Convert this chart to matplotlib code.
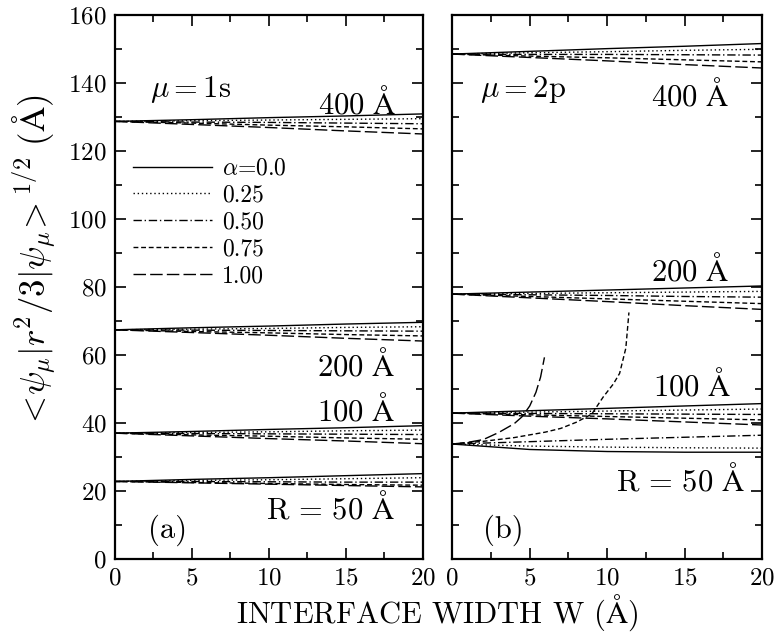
import matplotlib

matplotlib.use("Agg")
import matplotlib.pyplot as plt

plt.rcParams["font.family"] = "serif"
plt.rcParams["font.serif"] = ["cmr10"]
plt.rcParams["mathtext.fontset"] = "cm"
plt.rcParams["axes.formatter.use_mathtext"] = True
plt.rcParams["axes.unicode_minus"] = False

# interface width grid for the smooth bands
W = [0, 5, 10, 15, 20]
ALPHAS = ["0.0", "0.25", "0.50", "0.75", "1.00"]

# panel (a): mu = 1s, rows are alpha = 0.0, 0.25, 0.50, 0.75, 1.00
a_400 = [
    [128.7, 129.2, 129.8, 130.3, 130.9],
    [128.7, 128.9, 129.1, 129.3, 129.5],
    [128.7, 128.5, 128.4, 128.2, 128.0],
    [128.7, 128.2, 127.6, 127.1, 126.5],
    [128.7, 127.8, 126.9, 125.9, 125.0],
]
a_200 = [
    [67.4, 68.0, 68.5, 69.1, 69.6],
    [67.4, 67.6, 67.8, 68.1, 68.3],
    [67.4, 67.3, 67.2, 67.1, 67.0],
    [67.4, 66.9, 66.5, 66.0, 65.6],
    [67.4, 66.6, 65.8, 64.9, 64.1],
]
a_100 = [
    [37.0, 37.5, 38.1, 38.6, 39.2],
    [37.0, 37.2, 37.4, 37.7, 37.9],
    [37.0, 36.9, 36.8, 36.7, 36.6],
    [37.0, 36.5, 36.1, 35.6, 35.2],
    [37.0, 36.2, 35.4, 34.7, 33.9],
]
a_50 = [
    [22.8, 23.4, 23.9, 24.5, 25.1],
    [22.8, 23.1, 23.3, 23.6, 23.9],
    [22.8, 22.8, 22.7, 22.6, 22.6],
    [22.8, 22.5, 22.2, 21.9, 21.7],
    [22.8, 22.4, 22.0, 21.6, 21.2],
]

# panel (b): mu = 2p
b_400 = [
    [148.5, 149.3, 150.1, 150.8, 151.6],
    [148.5, 148.9, 149.2, 149.6, 149.9],
    [148.5, 148.4, 148.4, 148.3, 148.2],
    [148.5, 147.9, 147.4, 146.8, 146.2],
    [148.5, 147.5, 146.5, 145.4, 144.4],
]
b_200 = [
    [77.9, 78.5, 79.1, 79.7, 80.3],
    [77.9, 78.1, 78.3, 78.5, 78.7],
    [77.9, 77.7, 77.5, 77.2, 77.0],
    [77.9, 77.2, 76.5, 75.8, 75.1],
    [77.9, 76.8, 75.7, 74.5, 73.4],
]
b_100 = [
    [42.9, 43.6, 44.3, 45.0, 45.7],
    [42.9, 43.2, 43.5, 43.8, 44.1],
    [42.9, 42.8, 42.7, 42.6, 42.5],
    [42.9, 42.4, 41.9, 41.4, 40.9],
    [42.9, 42.0, 41.2, 40.3, 39.4],
]
# R = 50 A, mu = 2p: alpha 0.75 and 1.00 run away
b50_w0 = [0, 5, 10, 15, 20]
b50_y0 = [33.8, 32.2, 31.6, 31.4, 31.4]
b50_w1 = [0, 5, 10, 15, 20]
b50_y1 = [33.8, 33.2, 32.9, 32.7, 32.6]
b50_w2 = [0, 5, 10, 15, 20]
b50_y2 = [33.8, 34.5, 35.2, 35.8, 36.4]
b50_w3 = [0, 2, 4, 6, 7, 8, 9, 9.75, 10.4, 10.8, 11.2, 11.4]
b50_y3 = [33.8, 34.6, 35.7, 37.3, 38.4, 40.2, 42.6, 47.7, 51.5, 54.6, 62.0, 72.5]
b50_w4 = [0, 1, 2, 3, 4, 4.5, 5, 5.4, 5.7, 5.95]
b50_y4 = [33.8, 34.3, 35.1, 37.2, 39.8, 41.8, 45.0, 49.0, 53.5, 59.3]

STYLES = ["-", (0, (1, 2)), (0, (6, 2, 1, 2)), (0, (3.5, 2)), (0, (9, 3))]


def style_axes(ax, ylabels):
    ax.set_xlim(0, 20)
    ax.set_ylim(0, 160)
    ax.set_xticks([0, 5, 10, 15, 20])
    ax.set_xticks([2.5, 7.5, 12.5, 17.5], minor=True)
    ax.set_yticks(range(0, 161, 20))
    ax.set_yticks(range(10, 160, 20), minor=True)
    ax.tick_params(which="both", direction="in", top=True, right=True, width=1.2, labelsize=18)
    ax.tick_params(which="major", length=8, pad=6)
    ax.tick_params(which="minor", length=5)
    if not ylabels:
        ax.set_yticklabels([])
    for s in ax.spines.values():
        s.set_linewidth(1.6)


fig = plt.figure(figsize=(7.77, 6.37), dpi=100)
ax_a = fig.add_axes([0.148, 0.1225, 0.396, 0.854])
ax_b = fig.add_axes([0.582, 0.1225, 0.399, 0.854])

for band in (a_400, a_200, a_100, a_50):
    for i, ys in enumerate(band):
        ax_a.plot(W, ys, color="black", lw=1.0, linestyle=STYLES[i],
                  label=(r"$\alpha$=" + ALPHAS[i] if i == 0 else ALPHAS[i]) if band is a_400 else None)

for band in (b_400, b_200, b_100):
    for i, ys in enumerate(band):
        ax_b.plot(W, ys, color="black", lw=1.0, linestyle=STYLES[i])

for i, (ws, ys) in enumerate([(b50_w0, b50_y0), (b50_w1, b50_y1), (b50_w2, b50_y2),
                              (b50_w3, b50_y3), (b50_w4, b50_y4)]):
    ax_b.plot(ws, ys, color="black", lw=1.0, linestyle=STYLES[i])

style_axes(ax_a, True)
style_axes(ax_b, False)

txt = dict(fontsize=22, color="black")
ax_a.text(2.3, 138, r"$\mu=1\mathrm{s}$", va="center", ha="left", **txt)
ax_a.text(18.3, 134.2, r"$\mathrm{400\ \AA}$", va="center", ha="right", **txt)
ax_a.text(18.2, 57, r"$\mathrm{200\ \AA}$", va="center", ha="right", **txt)
ax_a.text(18.2, 43.8, r"$\mathrm{100\ \AA}$", va="center", ha="right", **txt)
ax_a.text(18.2, 15, r"$\mathrm{R\,=\,50\ \AA}$", va="center", ha="right", **txt)
ax_a.text(3.4, 8.5, "(a)", va="center", ha="center", **txt)

ax_b.text(1.8, 138, r"$\mu=2\mathrm{p}$", va="center", ha="left", **txt)
ax_b.text(17.9, 136.5, r"$\mathrm{400\ \AA}$", va="center", ha="right", **txt)
ax_b.text(17.9, 85, r"$\mathrm{200\ \AA}$", va="center", ha="right", **txt)
ax_b.text(18.0, 51.2, r"$\mathrm{100\ \AA}$", va="center", ha="right", **txt)
ax_b.text(18.9, 23.2, r"$\mathrm{R\,=\,50\ \AA}$", va="center", ha="right", **txt)
ax_b.text(3.3, 8.5, "(b)", va="center", ha="center", **txt)

ax_a.legend(loc="upper left", bbox_to_anchor=(0.028, 0.755), frameon=False, fontsize=17,
            handlelength=3.35, handletextpad=0.42, labelspacing=0.2, borderaxespad=0)

fig.text(0.563, 0.038, r"INTERFACE WIDTH W ($\mathrm{\AA}$)", ha="center", va="center", fontsize=22)
fig.text(0.045, 0.589, r"$<\!\psi_\mu|r^2/3|\psi_\mu\!>^{1/2}\ (\mathrm{\AA})$",
         ha="center", va="center", rotation=90, fontsize=25)

fig.savefig("out.png", dpi=100)
